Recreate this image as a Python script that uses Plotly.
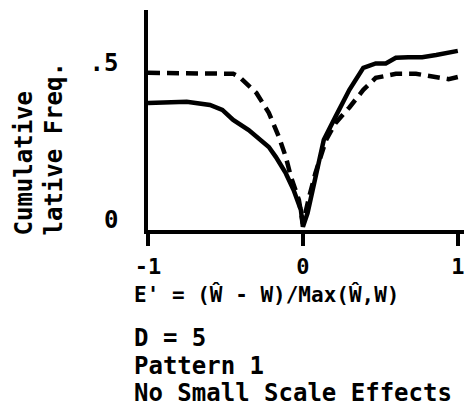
import plotly.graph_objects as go

# E' values and cumulative frequencies
solid_x = [-1.0, -0.75, -0.60, -0.52, -0.45, -0.35, -0.22, -0.174, -0.11, -0.06, -0.013, 0.0,
           0.03, 0.084, 0.135, 0.21, 0.30, 0.39, 0.47, 0.535, 0.60, 0.68, 0.77, 0.86, 0.94, 1.0]
solid_y = [0.404, 0.408, 0.398, 0.382, 0.35, 0.318, 0.264, 0.232, 0.18, 0.127, 0.064, 0.01,
           0.054, 0.18, 0.287, 0.36, 0.446, 0.516, 0.53, 0.53, 0.548, 0.55, 0.55, 0.557, 0.564, 0.57]

dashed_x = [-1.0, -0.6, -0.45, -0.41, -0.30, -0.22, -0.155, -0.11, -0.077, -0.026, 0.0,
            0.04, 0.08, 0.15, 0.21, 0.30, 0.39, 0.47, 0.60, 0.73, 0.86, 0.94, 1.0]
dashed_y = [0.5, 0.5, 0.497, 0.487, 0.436, 0.373, 0.296, 0.232, 0.169, 0.096, 0.02,
            0.105, 0.18, 0.287, 0.34, 0.39, 0.446, 0.484, 0.497, 0.497, 0.487, 0.48, 0.487]

x_ticks = [-1, 0, 1]
x_tick_text = ['-1', '0', '1']
y_ticks = [0, 0.5]
y_tick_text = ['0', '.5']

caption_lines = ['D = 5', 'Pattern 1', 'No Small Scale Effects']

mono = dict(family='DejaVu Sans Mono', size=24, color='black', weight='bold')

fig = go.Figure()
fig.add_trace(go.Scatter(x=dashed_x, y=dashed_y, mode='lines',
                         line=dict(color='black', width=4.5, dash='12px,7px')))
fig.add_trace(go.Scatter(x=solid_x, y=solid_y, mode='lines',
                         line=dict(color='black', width=4.5)))

# page body keeps an 8px margin, so the figure is 8px smaller and shifted
fig.update_layout(
    width=464, height=405, autosize=False,
    margin=dict(l=140, r=8, t=2, b=183),
    paper_bgcolor='white', plot_bgcolor='white',
    showlegend=False,
    font=mono,
    xaxis=dict(range=[-1, 1.04], showgrid=False, zeroline=False, automargin=False,
               showline=True, linewidth=3.5, linecolor='black',
               tickvals=x_ticks, ticktext=x_tick_text,
               ticks='outside', ticklen=12, tickwidth=3.5, tickcolor='black',
               ticklabelstandoff=2, tickfont=dict(mono, size=22)),
    yaxis=dict(range=[0, 0.70], showgrid=False, zeroline=False, automargin=False,
               showline=True, linewidth=3.5, linecolor='black',
               tickvals=y_ticks, ticktext=y_tick_text, ticks='',
               ticklabelstandoff=21, ticklabelshift=-10, tickfont=mono),
)

# rotated y-axis title, two lines bottom-aligned
fig.add_annotation(text='Cumulative', textangle=-90, xref='paper', yref='paper',
                   x=0, y=0, xshift=-125, yshift=-8, xanchor='center', yanchor='bottom',
                   showarrow=False, font=mono)
fig.add_annotation(text='lative Freq.', textangle=-90, xref='paper', yref='paper',
                   x=0, y=0, xshift=-95, yshift=-8, xanchor='center', yanchor='bottom',
                   showarrow=False, font=mono)

# x-axis title and caption lines
fig.add_annotation(text="E' = (Ŵ - W)/Max(Ŵ,W)", xref='paper', yref='paper',
                   x=0, y=0, xshift=-16, yshift=-64, xanchor='left', yanchor='middle',
                   showarrow=False, font=dict(mono, size=21))
for line, shift in zip(caption_lines, [-108, -136, -163]):
    fig.add_annotation(text=line, xref='paper', yref='paper',
                       x=0, y=0, xshift=-16, yshift=shift, xanchor='left', yanchor='middle',
                       showarrow=False, font=mono)

fig.write_html('out.html')
